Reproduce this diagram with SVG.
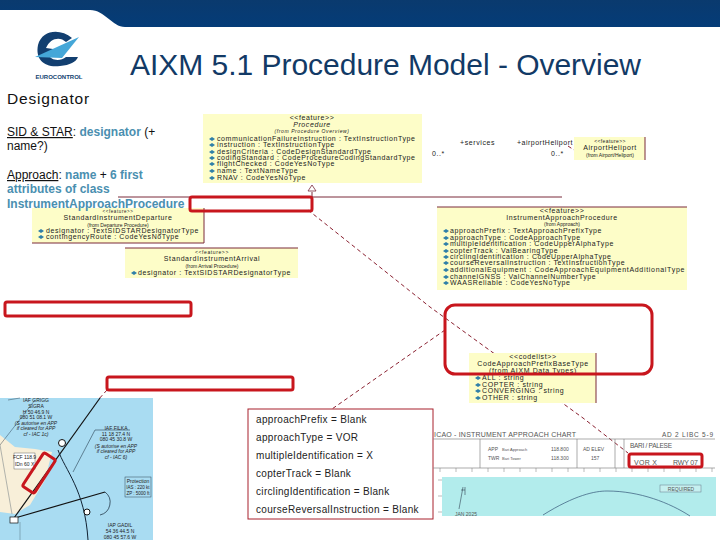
<svg xmlns="http://www.w3.org/2000/svg" width="720" height="540" viewBox="0 0 720 540">
<style>
text{font-family:"Liberation Sans",Arial,sans-serif}
.body{font-size:12px;fill:#111}
.blue{font-size:12px;fill:#4a8fb0;font-weight:bold}
.u{font-size:7px;fill:#222;letter-spacing:.6px}
.c{text-anchor:middle}
.box{fill:#fdfdc8}
.edge{stroke:#7a2a3a;stroke-width:1;fill:none}
.dash{stroke:#8a2030;stroke-width:1;stroke-dasharray:4 3;fill:none}
.red{fill:none;stroke:#c8161d;stroke-width:3}
.val{font-size:10px;fill:#222;letter-spacing:.33px}
.ch{font-size:5px;fill:#222}
.g{font-size:5px;fill:#555}
.dot{fill:#2f7fa8}
</style>
<defs>
<path id="d" d="M0 -2 L3 0 L0 2 L-3 0 Z" class="dot"/>
<linearGradient id="nav" x1="0" y1="0" x2="0" y2="1"><stop offset="0" stop-color="#0a3a6e"/><stop offset="1" stop-color="#043c78"/></linearGradient>
</defs>

<g id="banner"><path d="M0 0H720V27H125C112 27 105 10 90 10H0Z" fill="url(#nav)"/></g>
<g id="logo">
<path d="M72 38C60 28 42 30 38 45C35 60 45 68 60 66C70 65 76 62 78 57L66 57C60 62 50 60 49 55L60 50L46 48C50 38 60 36 66 42Z" fill="#123f70"/>
<path d="M35 57L79 37L62 58Z" fill="#45a7d8"/>
<text x="59" y="79" class="c" style="font-size:6px;font-weight:bold;fill:#123f70">EUROCONTROL</text>
</g>
<text x="130" y="75" textLength="511" style="font-size:30px;fill:#123a66">AIXM 5.1 Procedure Model - Overview</text>
<text x="7" y="104" style="font-size:15.5px;fill:#111;letter-spacing:.8px">Designator</text>

<g id="connectors">
<path class="edge" d="M118 197H562"/>
<path class="edge" d="M312 192V197"/>
<path d="M312 185L308 191H316Z" fill="#fff" stroke="#7a2a3a" stroke-width="0.8"/>
<path class="dash" d="M308 210L430 307L583 418L628 453"/>
<path class="dash" d="M445 330L332 409"/>
<path class="dash" d="M107 390L62 440"/>
<path class="dash" d="M568 146L574 150"/>
</g>

<g id="procedure">
<rect class="box" x="203" y="114" width="219" height="69"/>
<text x="312" y="120" class="u c">&lt;&lt;feature&gt;&gt;</text>
<text x="312" y="127" class="u c" font-style="italic">Procedure</text>
<text x="312" y="133" class="ch c" font-style="italic" style="letter-spacing:.6px">(from Procedure Overview)</text>
<use href="#d" x="212" y="139"/><text x="217" y="141" class="u">communicationFailureInstruction : TextInstructionType</text>
<use href="#d" x="212" y="145"/><text x="217" y="147" class="u">instruction : TextInstructionType</text>
<use href="#d" x="212" y="152"/><text x="217" y="154" class="u">designCriteria : CodeDesignStandardType</text>
<use href="#d" x="212" y="158"/><text x="217" y="160" class="u">codingStandard : CodeProcedureCodingStandardType</text>
<use href="#d" x="212" y="164"/><text x="217" y="166" class="u">flightChecked : CodeYesNoType</text>
<use href="#d" x="212" y="171"/><text x="217" y="173" class="u">name : TextNameType</text>
<use href="#d" x="212" y="178"/><text x="217" y="180" class="u">RNAV : CodeYesNoType</text>
</g>

<g id="assoc-labels">
<text x="460" y="145" class="u">+services</text>
<text x="517" y="145" class="u" textLength="56">+airportHeliport</text>
<text x="432" y="156" class="u">0..*</text>
<text x="551" y="156" class="u">0..*</text>
</g>

<g id="airportheliport">
<rect class="box" x="574" y="137" width="71" height="23"/>
<path class="edge" d="M645 137V160"/>
<text x="610" y="143" class="ch c" style="letter-spacing:.4px">&lt;&lt;feature&gt;&gt;</text>
<text x="610" y="150" class="u c">AirportHeliport</text>
<text x="610" y="156.500" class="ch c">(from Airport/Heliport)</text>
</g>

<g id="instrumentapproach">
<rect class="box" x="437" y="207" width="250" height="83"/>
<path class="edge" d="M437 207H687"/>
<text x="562" y="213" class="u c">&lt;&lt;feature&gt;&gt;</text>
<text x="562" y="219.500" class="u c">InstrumentApproachProcedure</text>
<text x="562" y="226" class="ch c">(from Approach)</text>
<use href="#d" x="446" y="231"/><text x="450" y="233" class="u">approachPrefix : TextApproachPrefixType</text>
<use href="#d" x="446" y="238"/><text x="450" y="240" class="u">approachType : CodeApproachType</text>
<use href="#d" x="446" y="244"/><text x="450" y="246" class="u">multipleIdentification : CodeUpperAlphaType</text>
<use href="#d" x="446" y="251"/><text x="450" y="253" class="u">copterTrack : ValBearingType</text>
<use href="#d" x="446" y="257"/><text x="450" y="259" class="u">circlingIdentification : CodeUpperAlphaType</text>
<use href="#d" x="446" y="263"/><text x="450" y="265" class="u">courseReversalInstruction : TextInstructionType</text>
<use href="#d" x="446" y="270"/><text x="450" y="272" class="u" textLength="235">additionalEquipment : CodeApproachEquipmentAdditionalType</text>
<use href="#d" x="446" y="277"/><text x="450" y="279" class="u">channelGNSS : ValChannelNumberType</text>
<use href="#d" x="446" y="283"/><text x="450" y="285" class="u">WAASReliable : CodeYesNoType</text>
</g>

<g id="sid">
<rect class="box" x="32" y="208" width="172" height="35"/>
<path class="edge" d="M32 243H204M204 208V243"/>
<text x="118" y="213" class="ch c" style="letter-spacing:.6px;font-size:4.5px">&lt;&lt;feature&gt;&gt;</text>
<text x="118" y="220" class="u c">StandardInstrumentDeparture</text>
<text x="118" y="226.500" class="ch c">(from Departure Procedure)</text>
<use href="#d" x="41" y="231"/><text x="46" y="233" class="u">designator : TextSIDSTARDesignatorType</text>
<use href="#d" x="41" y="237"/><text x="46" y="239" class="u">contingencyRoute : CodeYesNoType</text>
</g>

<g id="star">
<rect class="box" x="125" y="248" width="173" height="30"/>
<path class="edge" d="M125 248H298"/>
<text x="212" y="254" class="ch c" style="letter-spacing:.6px">&lt;&lt;feature&gt;&gt;</text>
<text x="212" y="261" class="u c">StandardInstrumentArrival</text>
<text x="212" y="268" class="ch c">(from Arrival Procedure)</text>
<use href="#d" x="134" y="273"/><text x="138" y="275" class="u">designator : TextSIDSTARDesignatorType</text>
</g>

<g id="codelist">
<rect class="box" x="469" y="353" width="127" height="50"/>
<path class="edge" d="M596 353V403"/>
<text x="533" y="359" class="u c">&lt;&lt;codelist&gt;&gt;</text>
<text x="533" y="366" class="u c">CodeApproachPrefixBaseType</text>
<text x="533" y="373" class="u c">(from AIXM Data Types)</text>
<use href="#d" x="478" y="378"/><text x="482" y="380" class="u">ALL : string</text>
<use href="#d" x="478" y="385"/><text x="482" y="387" class="u">COPTER : string</text>
<use href="#d" x="478" y="391"/><text x="482" y="393" class="u">CONVERGING : string</text>
<use href="#d" x="478" y="398"/><text x="482" y="400" class="u">OTHER : string</text>
</g>

<g id="chart-left">
<rect x="0" y="398" width="153" height="142" fill="#a9dcf2"/>
<path d="M0 435L15 447L35 449L52 452L45 480L30 505L15 514L0 512Z" fill="#f8efd9"/>
<path d="M100 398L14 518" stroke="#111" stroke-width="1.2" fill="none"/>
<path d="M15 518L105 492" stroke="#111" stroke-width="1.2" fill="none"/>
<path d="M58 450C65 470 85 490 88 540" stroke="#123" stroke-width="1" fill="none"/>
<path d="M105 492A13 13 0 0 1 100 515" stroke="#123" stroke-width="0.7" fill="none"/>
<path d="M73 472L95 430H130" stroke="#123" stroke-width="0.5" fill="none"/>
<path d="M35 400L0 445M8 400L20 398" stroke="#123" stroke-width="0.4" fill="none"/>
<path d="M0 445L12 514M20 540V522" stroke="#456" stroke-width="0.4" fill="none"/>
<circle cx="62" cy="443" r="3.500" fill="#fff" stroke="#111"/>
<circle cx="87" cy="512" r="3" fill="#fff" stroke="#111"/>
<rect x="10" y="517" width="8" height="6" fill="#fff" stroke="#111" stroke-width="0.7"/>
<rect x="14" y="453" width="21" height="16" fill="#fff" stroke="#444" stroke-width="0.4"/>
<text x="24.500" y="459" class="ch c">FCF 118.9</text>
<text x="24.500" y="466" class="ch c">IDn 60 X</text>
<text x="36" y="402" class="ch c">IAF GRIGG</text>
<text x="36" y="408" class="ch c">SIGRA</text>
<text x="36" y="414" class="ch c">H 50 46.9 N</text>
<text x="36" y="419" class="ch c">080 51 08.1 W</text>
<text x="36" y="425" class="ch c" font-style="italic">(S autorise en APP</text>
<text x="36" y="430" class="ch c" font-style="italic">if cleared for APP</text>
<text x="36" y="436" class="ch c" font-style="italic">cf - IAC 1c)</text>
<text x="116" y="430" class="ch c">IAF FILKA</text>
<text x="116" y="436" class="ch c">11 18 27.4 N</text>
<text x="116" y="441" class="ch c">080 45 30.8 W</text>
<text x="116" y="448" class="ch c" font-style="italic">(S autorise en APP</text>
<text x="116" y="453" class="ch c" font-style="italic">if cleared for APP</text>
<text x="116" y="459" class="ch c" font-style="italic">cf - IAC 6)</text>
<rect x="125" y="477" width="26" height="20" fill="none" stroke="#345" stroke-width="0.5"/>
<text x="138" y="483" class="ch c">Protection</text>
<text x="138" y="489" class="ch c" style="font-size:4.5px">IAS : 220 kt</text>
<text x="138" y="495" class="ch c" style="font-size:4.5px">ZP : 5000 ft</text>
<text x="120" y="527" class="ch c">IAP GADIL</text>
<text x="120" y="533" class="ch c">54 36 44.5 N</text>
<text x="120" y="539" class="ch c">080 45 57.6 W</text>
<rect x="19" y="466" width="40" height="14" rx="2" transform="rotate(-57 39 473)" fill="none" stroke="#c8161d" stroke-width="3"/>
</g>

<g id="values">
<rect x="248" y="409" width="185" height="110" fill="#fff" stroke="#a8202c" stroke-width="1"/>
<text x="256" y="423" class="val">approachPrefix = Blank</text>
<text x="256" y="441" class="val">approachType = VOR</text>
<text x="256" y="459" class="val">multipleIdentification = X</text>
<text x="256" y="477" class="val">copterTrack = Blank</text>
<text x="256" y="495" class="val">circlingIdentification = Blank</text>
<text x="256" y="513" class="val">courseReversalInstruction = Blank</text>
</g>

<g id="chart-right">
<text x="434" y="437" textLength="142" style="font-size:7px;fill:#555">ICAO - INSTRUMENT APPROACH CHART</text>
<text x="662" y="437" textLength="51" style="font-size:6.5px;fill:#555">AD 2 LIBC 5-9</text>
<path d="M433 439H715M433 468H715M480 439V468M577 439V468M615 439V468M624 439V468" stroke="#888" stroke-width="0.7" fill="none"/>
<path d="M440 468V472M456 468V472M472 468V472M488 468V472M504 468V472M520 468V472M536 468V472M552 468V472M568 468V472M584 468V472M600 468V472M616 468V472M632 468V472M648 468V472M664 468V472M680 468V472M696 468V472M712 468V472M438 480H442M438 496H442M438 512H442M716 484H712M716 500H712" stroke="#777" stroke-width="0.5" fill="none"/>
<text x="488" y="451" class="g">APP</text><text x="488" y="460" class="g">TWR</text>
<text x="502" y="451" class="g" style="font-size:4px">Bari Approach</text><text x="502" y="460" class="g" style="font-size:4px">Bari Tower</text>
<text x="551" y="451" class="g">118.800</text><text x="551" y="460" class="g">118.300</text>
<text x="583" y="451" class="g">AD ELEV</text><text x="591" y="460" class="g">157</text>
<text x="630" y="448" style="font-size:6.5px;fill:#555" textLength="42">BARI / PALESE</text>
<text x="634" y="465" style="font-size:7px;fill:#555" textLength="23">VOR X</text>
<text x="673" y="465" style="font-size:7px;fill:#555" textLength="25">RWY 07</text>
<rect x="629" y="454" width="73" height="13" rx="2" class="red"/>
<rect x="442" y="477" width="274" height="39" fill="#b2ecec"/>
<path d="M543 515C575 495 595 491 607 491C640 491 670 503 690 516" fill="none" stroke="#357" stroke-width="0.7"/>
<path d="M463 487L459 509M465 487V495M461 490H465" fill="none" stroke="#345" stroke-width="0.6"/>
<rect x="660" y="485" width="41" height="7" fill="#c6f0f0" stroke="#678" stroke-width="0.5"/>
<text x="681" y="490.500" class="g c">REQUIRED</text>
<text x="455" y="516" class="g">JAN 2025</text>
</g>

<g id="highlights">
<rect x="190" y="197" width="122" height="14" rx="2" class="red"/>
<rect x="5" y="302" width="186" height="14" rx="2" class="red"/>
<rect x="107" y="377" width="186" height="13" rx="2" class="red"/>
<rect x="445" y="305" width="207" height="69" rx="10" class="red"/>
</g>

<g id="intro">
<text x="7" y="136" class="body"><tspan text-decoration="underline">SID &amp; STAR</tspan>: <tspan class="blue">designator</tspan> (+</text>
<text x="7" y="150" class="body">name?)</text>
<text x="7" y="179" class="body"><tspan text-decoration="underline">Approach</tspan>: <tspan class="blue">name</tspan> + <tspan class="blue">6 first</tspan></text>
<text x="7" y="193" class="blue">attributes of class</text>
<text x="7" y="207.500" class="blue">InstrumentApproachProcedure</text>
</g>
</svg>
